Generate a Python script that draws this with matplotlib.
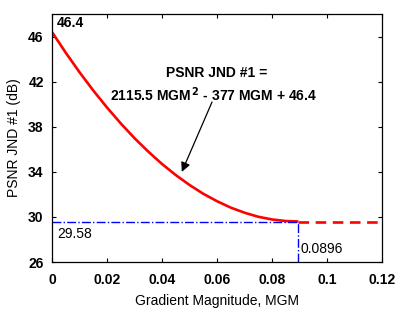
import matplotlib
matplotlib.use('Agg')
import matplotlib.pyplot as plt

plt.rcParams['font.family'] = ['Liberation Sans', 'DejaVu Sans']
plt.rcParams['font.size'] = 10

# values
mgm = [0, 0.005, 0.01, 0.015, 0.02, 0.025, 0.03, 0.035, 0.04, 0.045,
       0.05, 0.055, 0.06, 0.065, 0.07, 0.075, 0.08, 0.085, 0.0896]
psnr = [46.40, 44.57, 42.84, 41.22, 39.71, 38.30, 36.99, 35.80, 34.70, 33.72,
        32.84, 32.06, 31.40, 30.83, 30.38, 30.02, 29.78, 29.64, 29.60]

knee_x = 0.0896
floor_y = 29.58
flat_x = [0.0896, 0.12]
xticks = [0, 0.02, 0.04, 0.06, 0.08, 0.1, 0.12]
xticklabels = ['0', '0.02', '0.04', '0.06', '0.08', '0.1', '0.12']
yticks = [26, 30, 34, 38, 42, 46]

fig = plt.figure(figsize=(4, 3.12), dpi=100)
ax = fig.add_axes([0.13, 0.16, 0.825, 0.795])

ax.plot(mgm, psnr, color='red', lw=1.9, solid_capstyle='butt')
ax.plot(flat_x, [floor_y, floor_y], color='red', lw=1.9, ls=(0, (4, 2.5)))
ax.plot([0, knee_x], [floor_y, floor_y], color='blue', lw=1.0, ls='-.')
ax.plot([knee_x, knee_x], [26, floor_y], color='blue', lw=1.0, ls='-.')

ax.text(0.0018, 46.55, '46.4', ha='left', va='bottom', weight='bold')
ax.text(0.0018, 29.15, '29.58', ha='left', va='top')
ax.text(0.0903, 26.5, '0.0896', ha='left', va='bottom')

ax.text(0.060, 42.8, 'PSNR JND #1 =', ha='center', va='center', weight='bold')
ax.text(0.0589, 40.85, '2115.5 MGM$^{\\,\\mathbf{2}}$ - 377 MGM + 46.4',
        ha='center', va='center', weight='bold')
ax.annotate('', xy=(0.0472, 34.0), xytext=(0.0582, 40.2),
            arrowprops=dict(arrowstyle='-|>', color='black', lw=0.9,
                            mutation_scale=14, shrinkA=0, shrinkB=0))

ax.set_xlim(0, 0.12)
ax.set_ylim(26, 48)
ax.set_xticks(xticks)
ax.set_xticklabels(xticklabels, weight='bold')
ax.set_yticks(yticks)
ax.set_yticklabels([str(v) for v in yticks], weight='bold')
ax.tick_params(axis='x', direction='in', top=True, length=3, pad=8)
ax.tick_params(axis='y', direction='in', right=True, length=3, pad=6)
for s in ax.spines.values():
    s.set_linewidth(0.9)

ax.set_xlabel('Gradient Magnitude, MGM', labelpad=5)
ax.set_ylabel('PSNR JND #1 (dB)', labelpad=5)

fig.savefig('out.png', dpi=100)
